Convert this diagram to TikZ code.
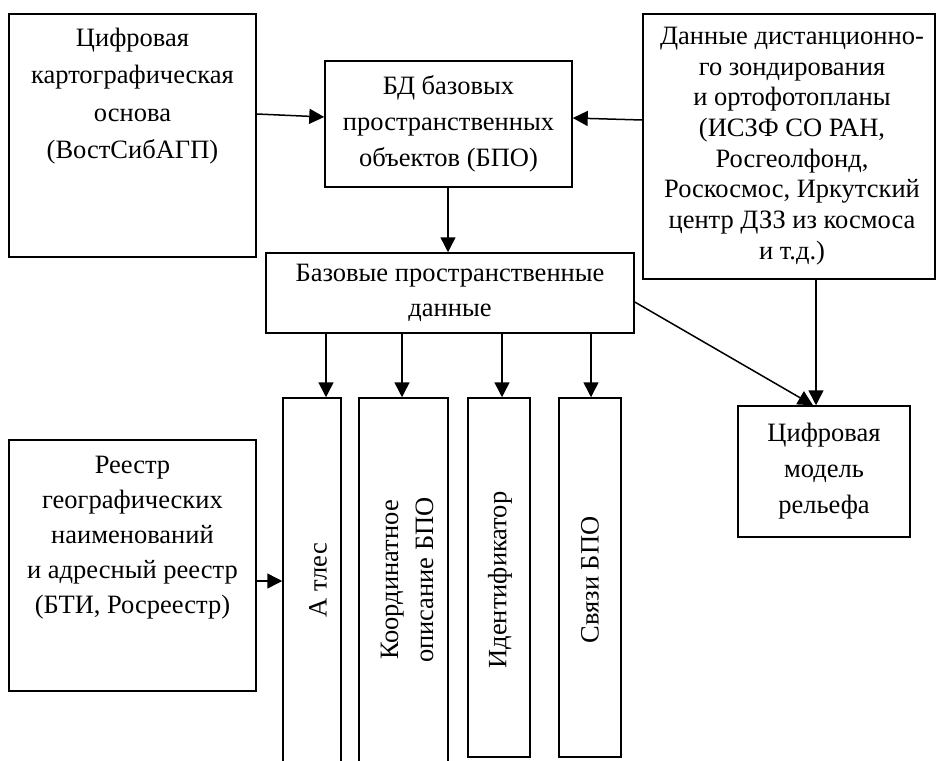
\documentclass[tikz,border=0pt]{standalone}
\usepackage{fontspec}
\setmainfont{Liberation Serif}
\usepackage{tikz}
\usetikzlibrary{positioning, arrows.meta, shapes}

\begin{document}
\begin{tikzpicture}[x=1pt, y=-1pt,
    box/.style={draw, line width=1.5pt, inner sep=0pt},
    txt/.style={align=center, inner sep=0pt, font=\fontsize{26.5}{36}\selectfont},
    arr/.style={-{Triangle[length=15pt, width=15pt]}, line width=1.5pt}]
    \clip (0,0) rectangle (936,760);

    % sources
    \node[box, minimum width=247pt, minimum height=243pt] (carto) at (132.5,135.5) {};
    \node[txt, font=\fontsize{26.5}{37.5}\selectfont] (cartotxt) at (132.5,96) {Цифровая\\картографическая\\основа\\(ВостСибАГП)};
    \node[box, minimum width=292pt, minimum height=265pt] (dzz) at (789,146.5) {};
    \node[txt, font=\fontsize{26.5}{30.7}\selectfont] (dzztxt) at (792,146) {Данные дистанционно-\\го зондирования\\и ортофотопланы\\(ИСЗФ СО РАН,\\Росгеолфонд,\\Роскосмос, Иркутский\\центр ДЗЗ из космоса\\и т.д.)};
    \node[box, minimum width=247pt, minimum height=251pt] (reestr) at (132.5,565.5) {};
    \node[txt, font=\fontsize{26.5}{35}\selectfont] (reestrtxt) at (132.5,538) {Реестр\\географических\\наименований\\и адресный реестр\\(БТИ, Росреестр)};

    % database and base data
    \node[box, txt, minimum width=247pt, minimum height=126pt] (bpo) at (448.5,124) {БД базовых\\пространственных\\объектов (БПО)};
    \node[box, txt, font=\fontsize{26.5}{35}\selectfont, minimum width=368pt, minimum height=80pt] (base) at (450,293) {Базовые пространственные\\данные};
    \node[box, txt, minimum width=172pt, minimum height=131pt] (dem) at (824,471.5) {Цифровая\\модель\\рельефа};

    % vertical boxes
    \node[box, minimum width=58pt, minimum height=380pt] (atlas) at (312,588) {};
    \node[box, minimum width=89pt, minimum height=380pt] (coord) at (403.5,588) {};
    \node[box, minimum width=62pt, minimum height=359pt] (ident) at (499,577.5) {};
    \node[box, minimum width=62pt, minimum height=359pt] (links) at (590,577.5) {};
    \node[txt, rotate=90] (atlastxt) at (318,580) {А тлес};
    \node[txt, rotate=90, font=\fontsize{26.5}{35}\selectfont] (coordtxt) at (407,580) {Координатное\\описание БПО};
    \node[txt, rotate=90] (identtxt) at (500,580) {Идентификатор};
    \node[txt, rotate=90] (linkstxt) at (590,580) {Связи БПО};

    % arrows into the database
    \draw[arr] (carto.east |- 0,114) -- (bpo.west |- 0,117);
    \draw[arr] (dzz.west |- 0,120) -- (bpo.east |- 0,118);
    \draw[arr] (bpo.south -| 448,0) -- (base.north -| 448,0);

    % arrows to the vertical boxes
    \foreach \n/\x in {atlas/326, coord/402, ident/502, links/591}
        \draw[arr] (base.south -| \x,0) -- (\n.north -| \x,0);
    \draw[arr] (reestr.east |- 0,581) -- (atlas.west |- 0,581);

    % arrows to the relief model
    \draw[arr] (base.east |- 0,302) -- (dem.north -| 813,0);
    \draw[arr] (dzz.south -| 816,0) -- (dem.north -| 816,0);
\end{tikzpicture}
\end{document}
